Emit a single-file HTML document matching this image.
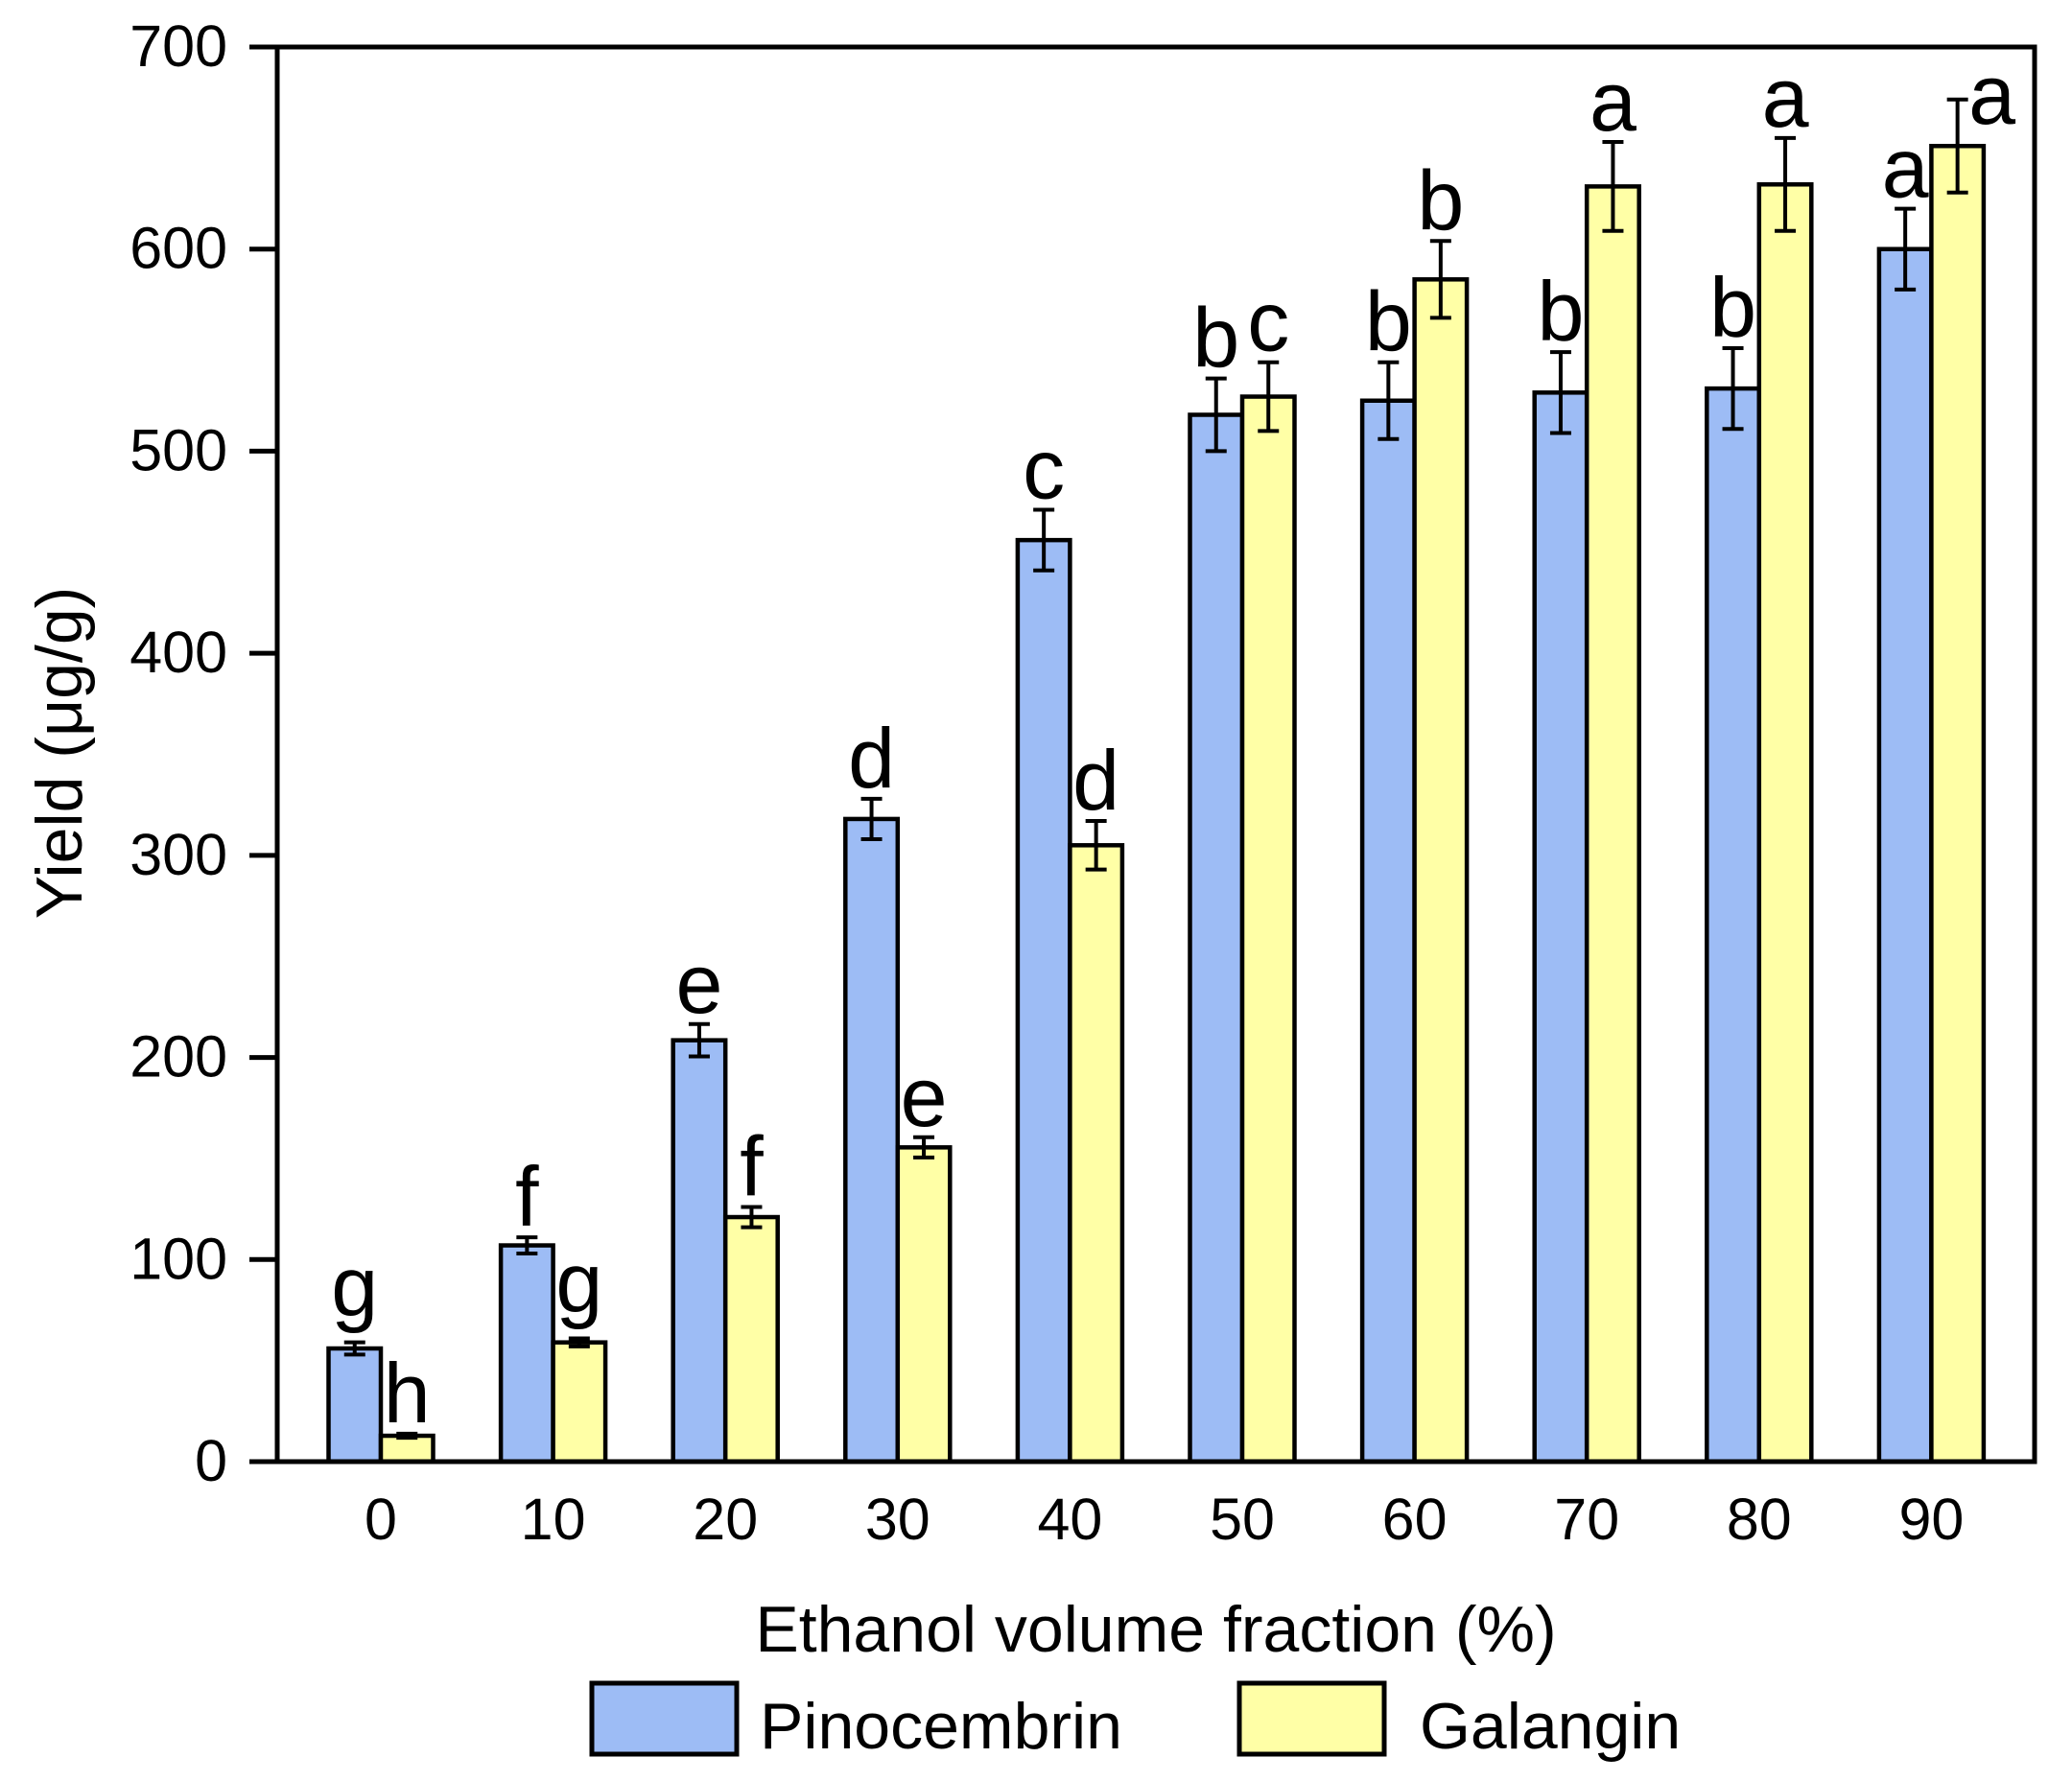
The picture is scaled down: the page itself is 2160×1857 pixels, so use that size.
<!DOCTYPE html>
<html><head><meta charset="utf-8"><style>
html,body{margin:0;padding:0;background:#fff;}
svg{display:block;font-family:"Liberation Sans",Arial,sans-serif;}
</style></head><body>
<svg id="chart" width="2160" height="1857" viewBox="0 0 2160 1857" xmlns="http://www.w3.org/2000/svg">
<rect width="2160" height="1857" fill="#fff"/>
<g id="marks"></g>
<rect x="289" y="49" width="1832" height="1475" fill="none" stroke="#000" stroke-width="5"/>
<g id="yaxis"></g>
<g id="xaxis"></g>
<text transform="translate(85,785) rotate(-90)" text-anchor="middle" font-size="68">Yield (μg/g)</text>
<text x="1205" y="1722" text-anchor="middle" font-size="68">Ethanol volume fraction (%)</text>
<g>
<rect x="617" y="1755" width="151" height="74" fill="#9DBCF5" stroke="#000" stroke-width="5"/>
<text x="792" y="1823" font-size="68">Pinocembrin</text>
<rect x="1292" y="1755" width="151" height="74" fill="#FFFFA6" stroke="#000" stroke-width="5"/>
<text x="1480" y="1823" font-size="68">Galangin</text>
</g>
</svg>
<script>
const categories = ["0","10","20","30","40","50","60","70","80","90"];
const pinoValues = [56,107,208.5,318,456,518,525,529,531,600];
const pinoErrors = [3,4,8,10,15,18,19,20,20,20];
const pinoLetters = ["g","f","e","d","c","b","b","b","b","a"];
const galaValues = [12.8,59,121,155.5,305,527,585,631,632,651];
const galaErrors = [1,2,5,5,12,17,19,22,23,23];
const galaLetters = ["h","g","f","e","d","c","b","a","a","a"];
const yTicks = [0,100,200,300,400,500,600,700];

const NS = "http://www.w3.org/2000/svg";
const Y0 = 1524, YTOP = 49, YMAX = 700;
function yScale(v){ return Y0 - v*(Y0-YTOP)/YMAX; }
function xCenter(i){ return 397 + i*179.6; }
const BW = 54.5;
function mk(tag, attrs, parent){
  const e = document.createElementNS(NS, tag);
  for (const k in attrs) e.setAttribute(k, attrs[k]);
  parent.appendChild(e); return e;
}
const marks = document.getElementById('marks');
const yaxis = document.getElementById('yaxis');
const xaxis = document.getElementById('xaxis');

yTicks.forEach(t => {
  const y = yScale(t);
  const l = mk('line', {x1:260, x2:289, y1:y, y2:y, stroke:'#000','stroke-width':5}, yaxis);
  
  
  const tx = mk('text', {x:237, y:y+20, 'text-anchor':'end', 'font-size':61}, yaxis);
  tx.textContent = t;
  
  
});
categories.forEach((c,i) => {
  const tx = mk('text', {x:xCenter(i), y:1605, 'text-anchor':'middle', 'font-size':61}, xaxis);
  tx.textContent = c;
  
  
});

function drawSeries(vals, errs, letters, fill, side, name){
  vals.forEach((v,i) => {
    const x0 = side < 0 ? xCenter(i)-BW : xCenter(i);
    const yt = yScale(v);
    const r = mk('rect', {x:x0, y:yt, width:BW, height:Y0-yt, fill:fill, stroke:'#000','stroke-width':4.5}, marks);
    
    
    const cx = x0 + BW/2;
    const eTop = yScale(v+errs[i]), eBot = yScale(v-errs[i]);
    const g = mk('g', {stroke:'#000','stroke-width':4}, marks);
    
    
    mk('line', {x1:cx, x2:cx, y1:eTop, y2:eBot}, g);
    mk('line', {x1:cx-11, x2:cx+11, y1:eTop, y2:eTop}, g);
    mk('line', {x1:cx-11, x2:cx+11, y1:eBot, y2:eBot}, g);
    const L = letters[i];
    let by = eTop - (L === 'g' ? 28 : 12), lx = cx;
    if (by - 64 < YTOP) { by = eTop + 25; lx = cx + 36; }
    const t = mk('text', {x:lx, y:by, 'text-anchor':'middle', 'font-size':88}, marks);
    t.textContent = L;
    
    
  });
}
drawSeries(pinoValues, pinoErrors, pinoLetters, '#9DBCF5', -1, 'pinocembrin');
drawSeries(galaValues, galaErrors, galaLetters, '#FFFFA6', 1, 'galangin');
</script>
</body></html>
